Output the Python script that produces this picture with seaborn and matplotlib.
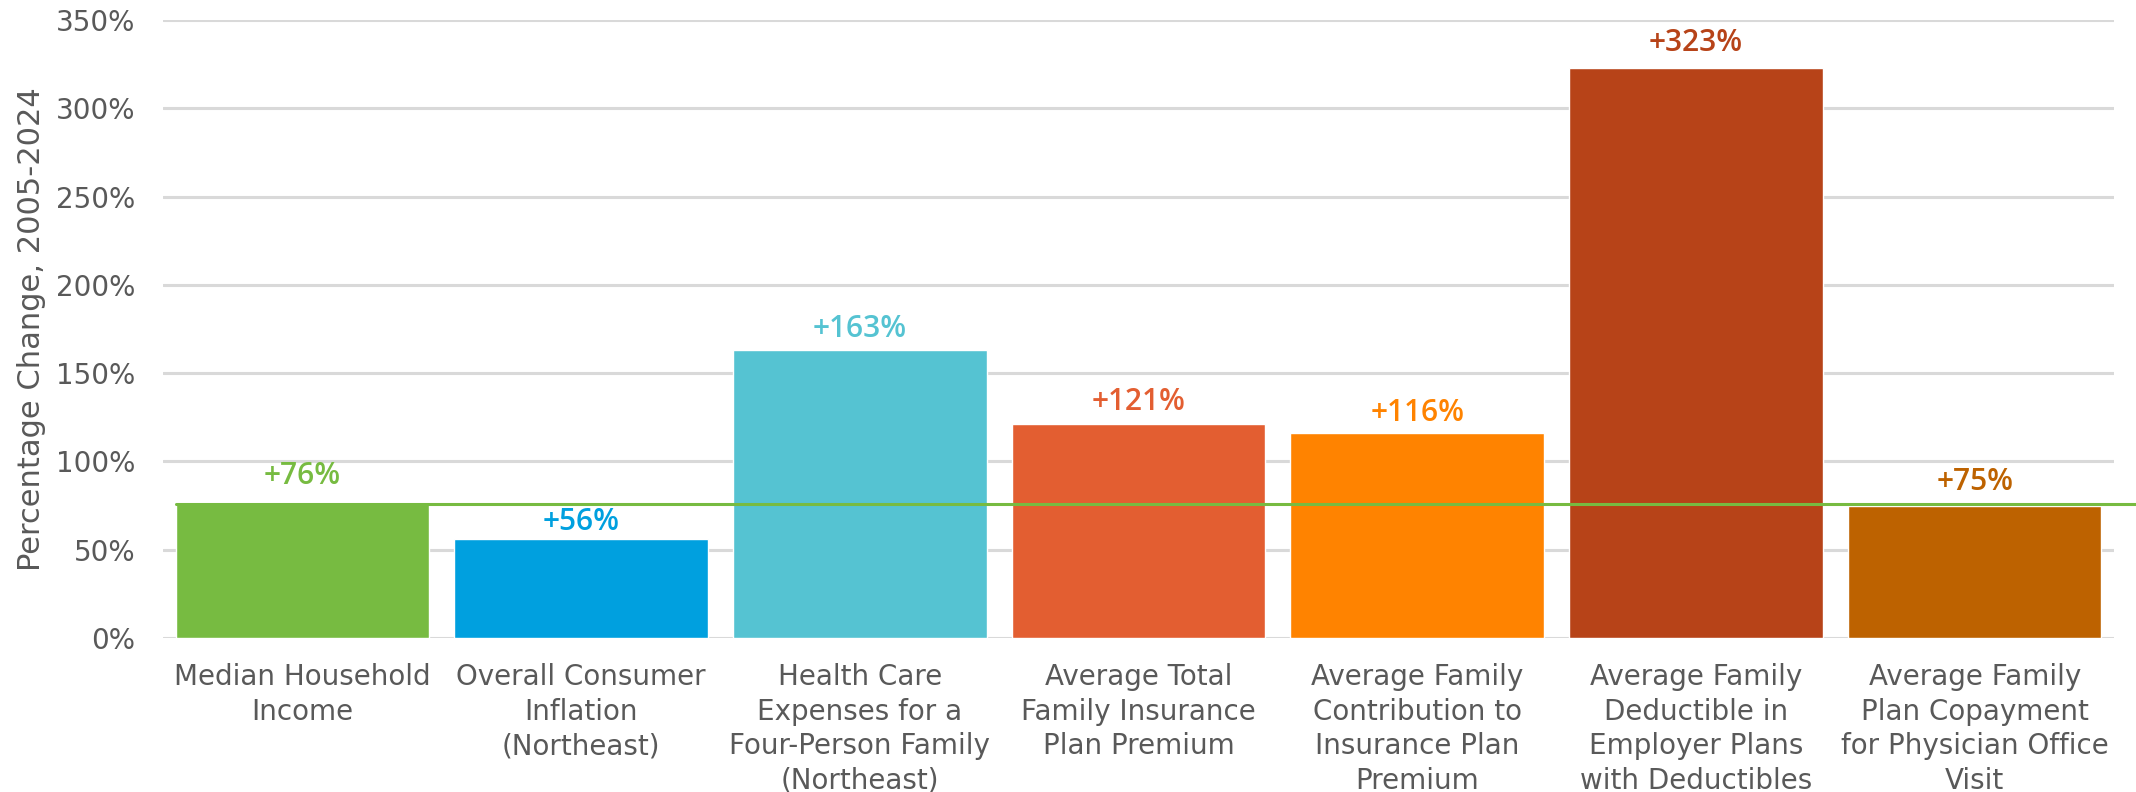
import matplotlib
matplotlib.use("Agg")
import matplotlib.pyplot as plt
import seaborn as sns
import pandas as pd

categories = [
    "Median Household\nIncome",
    "Overall Consumer\nInflation\n(Northeast)",
    "Health Care\nExpenses for a\nFour-Person Family\n(Northeast)",
    "Average Total\nFamily Insurance\nPlan Premium",
    "Average Family\nContribution to\nInsurance Plan\nPremium",
    "Average Family\nDeductible in\nEmployer Plans\nwith Deductibles",
    "Average Family\nPlan Copayment\nfor Physician Office\nVisit",
]
values = [76, 56, 163, 121, 116, 323, 75]
labels = ["+76%", "+56%", "+163%", "+121%", "+116%", "+323%", "+75%"]
bar_colors = ["#77BB41", "#00A0DF", "#55C3D2", "#E35E31", "#FF8300", "#B74318", "#BD6200"]
label_colors = ["#77BB41", "#00A0DF", "#55C3D2", "#E35E31", "#FF8300", "#B74318", "#BD6200"]
yticks = [0, 50, 100, 150, 200, 250, 300, 350]
ytick_labels = ["0%", "50%", "100%", "150%", "200%", "250%", "300%", "350%"]

# gap (points) between bar top and label baseline
label_gaps = [14, 6.5, 9.5, 10, 9, 12, 11.5]

sns.set_theme(style="white")
plt.rcParams["font.family"] = ["DejaVu Sans"]
gray = "#595959"

df = pd.DataFrame({"category": categories, "value": values})

fig = plt.figure(figsize=(21.36, 7.92), dpi=100)
ax = fig.add_axes([163 / 2136, 1 - 638 / 792, (2114 - 163) / 2136, (638 - 20) / 792])

sns.barplot(data=df, x="category", y="value", hue="category", palette=bar_colors,
            legend=False, width=0.91, saturation=1, ax=ax, zorder=3)

ax.set_ylim(0, 350)
ax.set_xlim(-0.5, len(categories) - 0.5)
ax.set_yticks(yticks)
ax.set_yticklabels(ytick_labels)
ax.yaxis.grid(True, color="#D9D9D9", linewidth=2.2, zorder=0)
ax.set_axisbelow(True)
for s in ax.spines.values():
    s.set_visible(False)
ax.tick_params(axis="both", length=0, labelsize=20, colors=gray)
ax.tick_params(axis="y", pad=20)
ax.tick_params(axis="x", pad=18)
for t in ax.get_xticklabels():
    t.set_linespacing(1.3)
ax.set_xlabel("")
ax.set_ylabel("Percentage Change, 2005-2024", fontsize=22, color=gray)
ax.yaxis.set_label_coords(-(163 - 46) / (2114 - 163), 0.5)

for i, (v, lab, c, g) in enumerate(zip(values, labels, label_colors, label_gaps)):
    ax.annotate(lab, xy=(i, v), xytext=(0, g), textcoords="offset points",
                ha="center", va="baseline", fontsize=21.5, fontweight="semibold",
                family=["Open Sans", "DejaVu Sans"], color=c)

# reference line at median household income level
ax.plot([-0.455, 6.7], [values[0], values[0]], color="#77BB41", linewidth=2.2,
        clip_on=False, zorder=4)

fig.savefig("out.png", dpi=100)
